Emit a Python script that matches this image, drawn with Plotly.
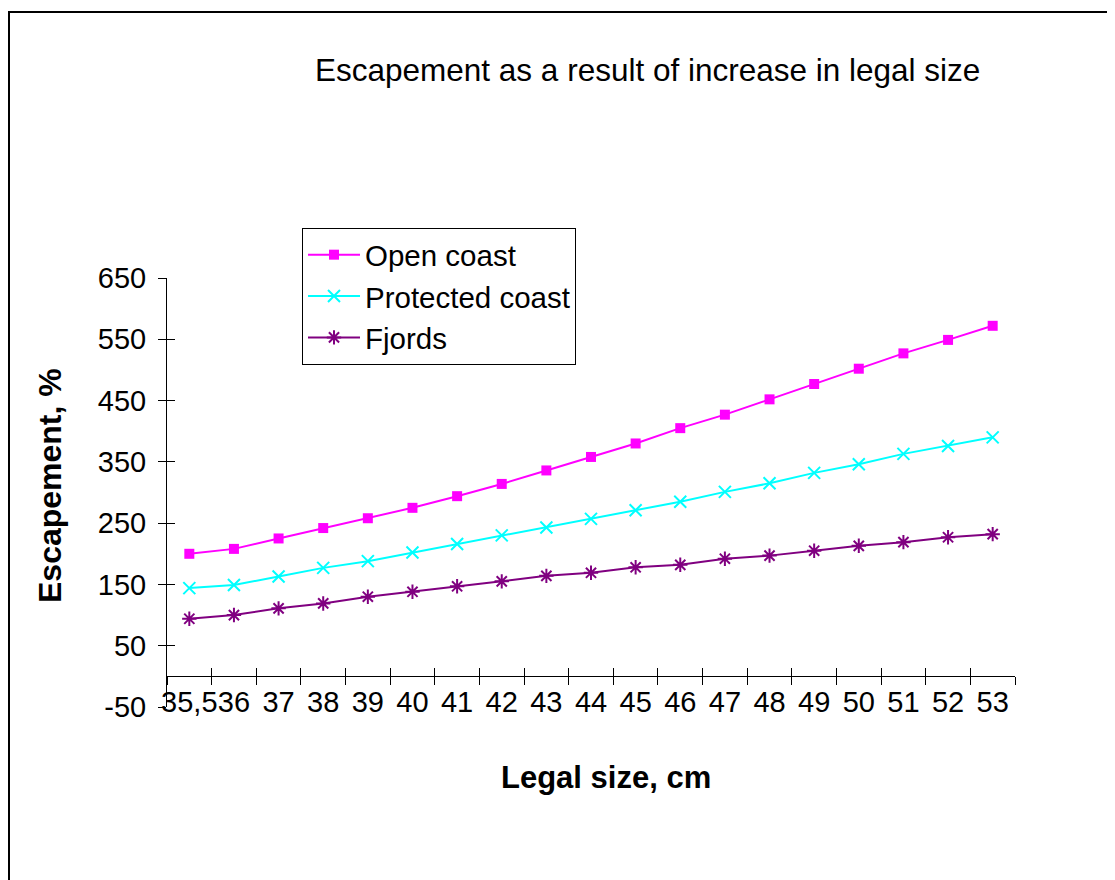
import plotly.graph_objects as go

sizes = ["35,5", "36", "37", "38", "39", "40", "41", "42", "43", "44", "45",
         "46", "47", "48", "49", "50", "51", "52", "53"]
open_coast = [200, 208, 225, 242, 258, 275, 294, 314, 336, 358, 380,
              405, 427, 452, 477, 502, 527, 549, 572]
protected_coast = [144, 149, 163, 177, 188, 202, 216, 230, 243, 257, 271,
                   285, 301, 315, 332, 346, 363, 376, 390]
fjords = [94, 100, 111, 119, 130, 138, 147, 155, 164, 169, 178,
          182, 192, 197, 205, 213, 219, 227, 232]
y_ticks = [-50, 50, 150, 250, 350, 450, 550, 650]
y_tick_labels = ["-50", "50", "150", "250", "350", "450", "550", "650"]

FONT = "Liberation Sans, Arial, sans-serif"
OFF = 8  # page offset of the plot div

fig = go.Figure()
fig.add_trace(go.Scatter(x=sizes, y=open_coast, name="Open coast", mode="lines+markers",
                         line=dict(color="#FF00FF", width=2),
                         marker=dict(symbol="square", size=10, color="#FF00FF")))
fig.add_trace(go.Scatter(x=sizes, y=protected_coast, name="Protected coast", mode="lines+markers",
                         line=dict(color="#00FFFF", width=2),
                         marker=dict(symbol="x-thin", size=12,
                                     line=dict(color="#00FFFF", width=2))))
fig.add_trace(go.Scatter(x=sizes, y=fjords, name="Fjords", mode="lines+markers",
                         line=dict(color="#800080", width=2),
                         marker=dict(symbol="asterisk", size=12,
                                     line=dict(color="#800080", width=2))))
# invisible helper trace for the inside-tick overlay axes (crossing tick marks)
fig.add_trace(go.Scatter(x=sizes, y=fjords, xaxis="x2", yaxis="y2", mode="lines",
                         line=dict(width=0, color="rgba(0,0,0,0)"), showlegend=False,
                         hoverinfo="skip"))

W, H = 1115, 880
L, T = 167 - OFF, 278 - OFF
R = W - (1015 - OFF)
B = H - (707 - OFF)
pw, ph = W - L - R, H - T - B

def px(x):
    return (x - OFF - L) / pw

def py(y):
    return (H - B - (y - OFF)) / ph

zero_pos = (0 - (-50)) / 700

fig.update_layout(
    width=W, height=H,
    margin=dict(l=L, r=R, t=T, b=B, autoexpand=False),
    paper_bgcolor="white", plot_bgcolor="white",
    font=dict(family=FONT, size=29, color="black"),
    showlegend=True,
    legend=dict(x=px(302), y=py(228), xanchor="left", yanchor="top",
                bgcolor="white", bordercolor="black", borderwidth=1,
                font=dict(size=29.5), itemwidth=52, tracegroupgap=0),
    xaxis=dict(type="category", range=[-0.5, 18.5], anchor="free", position=zero_pos,
               showline=True, linecolor="black", linewidth=1,
               ticks="outside", ticklen=8, tickcolor="black", tickson="boundaries",
               showgrid=False, zeroline=False, tickangle=0,
               tickfont=dict(size=29), ticklabelstandoff=0),
    xaxis2=dict(type="category", range=[-0.5, 18.5], overlaying="x", anchor="free",
                position=zero_pos, matches="x", showline=False,
                ticks="inside", ticklen=8, tickcolor="black", tickson="boundaries",
                showticklabels=False, showgrid=False, zeroline=False),
    yaxis=dict(range=[-50, 650], tickvals=y_ticks, ticktext=y_tick_labels,
               showline=True, linecolor="black",
               linewidth=1, ticks="outside", ticklen=8, tickcolor="black",
               showgrid=False, zeroline=False, tickfont=dict(size=29),
               ticklabelstandoff=6),
    yaxis2=dict(range=[-50, 650], overlaying="y", matches="y", tickvals=y_ticks[1:],
                ticks="inside", ticklen=8, tickcolor="black", showticklabels=False,
                showline=False, showgrid=False, zeroline=False),
    annotations=[
        dict(text="Escapement as a result of increase in legal size", xref="paper", yref="paper",
             x=px(647), y=py(70), xanchor="center", yanchor="middle", showarrow=False,
             font=dict(size=31.5)),
        dict(text="<b>Legal size, cm</b>", xref="paper", yref="paper",
             x=px(606), y=py(777), xanchor="center", yanchor="middle", showarrow=False,
             font=dict(size=31)),
        dict(text="<b>Escapement, %</b>", xref="paper", yref="paper",
             x=px(50), y=py(485), xanchor="center", yanchor="middle", showarrow=False,
             textangle=-90, font=dict(size=32)),
    ],
    shapes=[dict(type="rect", xref="paper", yref="paper",
                 x0=px(9), x1=px(1135), y0=py(905), y1=py(12),
                 line=dict(color="black", width=2), layer="below")],
)

fig.write_html("out.html")
